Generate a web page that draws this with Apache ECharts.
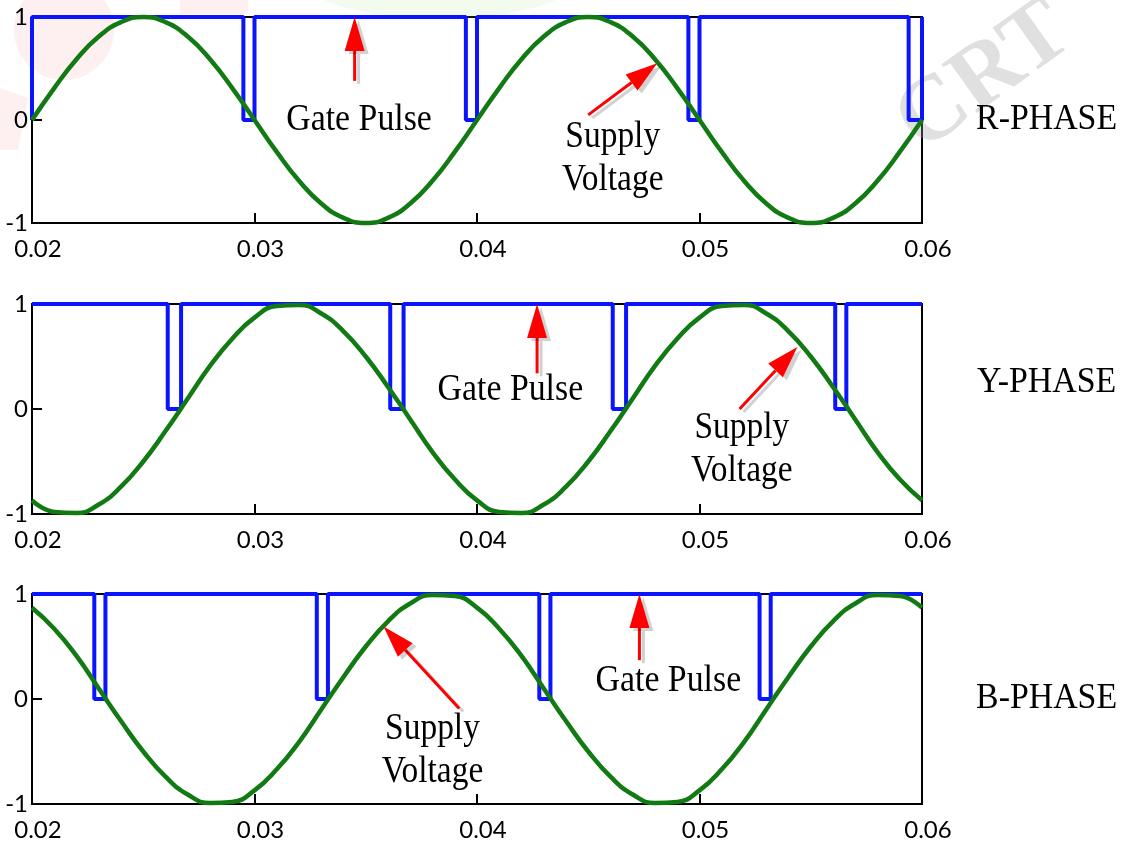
<!DOCTYPE html>
<html>
<head>
<meta charset="utf-8">
<title>Gate pulse and supply voltage</title>
<script src="https://cdn.jsdelivr.net/npm/echarts@6/dist/echarts.min.js"></script>
<style>
  html, body { margin: 0; padding: 0; background: #fff; }
  #main { width: 1127px; height: 846px; }
</style>
</head>
<body>
<div id="main"></div>
<script>
// sample times (s) of the supply voltage traces
const sampleTimes = [
  0.020, 0.021, 0.022, 0.023, 0.024, 0.025, 0.026, 0.027, 0.028, 0.029,
  0.030, 0.031, 0.032, 0.033, 0.034, 0.035, 0.036, 0.037, 0.038, 0.039,
  0.040, 0.041, 0.042, 0.043, 0.044, 0.045, 0.046, 0.047, 0.048, 0.049,
  0.050, 0.051, 0.052, 0.053, 0.054, 0.055, 0.056, 0.057, 0.058, 0.059,
  0.060
]

// supply voltage (p.u.)
const rVoltage = [
  0, 0.31, 0.59, 0.81, 0.95, 1, 0.95, 0.81, 0.59, 0.31,
  0, -0.31, -0.59, -0.81, -0.95, -1, -0.95, -0.81, -0.59, -0.31,
  0, 0.31, 0.59, 0.81, 0.95, 1, 0.95, 0.81, 0.59, 0.31,
  0, -0.31, -0.59, -0.81, -0.95, -1, -0.95, -0.81, -0.59, -0.31,
  0
]
const yVoltage = [
  -0.87, -0.98, -0.99, -0.91, -0.74, -0.5, -0.21, 0.1, 0.41, 0.67,
  0.87, 0.98, 0.99, 0.91, 0.74, 0.5, 0.21, -0.1, -0.41, -0.67,
  -0.87, -0.98, -0.99, -0.91, -0.74, -0.5, -0.21, 0.1, 0.41, 0.67,
  0.87, 0.98, 0.99, 0.91, 0.74, 0.5, 0.21, -0.1, -0.41, -0.67,
  -0.87
]
const bVoltage = [
  0.87, 0.67, 0.41, 0.1, -0.21, -0.5, -0.74, -0.91, -0.99, -0.98,
  -0.87, -0.67, -0.41, -0.1, 0.21, 0.5, 0.74, 0.91, 0.99, 0.98,
  0.87, 0.67, 0.41, 0.1, -0.21, -0.5, -0.74, -0.91, -0.99, -0.98,
  -0.87, -0.67, -0.41, -0.1, 0.21, 0.5, 0.74, 0.91, 0.99, 0.98,
  0.87
]

// gate pulse: level at t = 0.02 and the windows where it drops to 0
const rGateStart = 0
const rGateNotches = [[0.0295, 0.0300], [0.0395, 0.0400], [0.0495, 0.0500], [0.0594, 0.0600]]
const yGateStart = 1
const yGateNotches = [[0.0261, 0.0267], [0.0361, 0.0367], [0.0461, 0.0467], [0.0561, 0.0566]]
const bGateStart = 1
const bGateNotches = [[0.0228, 0.0233], [0.0328, 0.0333], [0.0428, 0.0433], [0.0527, 0.0532]]

const phaseNames = ['R-PHASE', 'Y-PHASE', 'B-PHASE']

// annotation anchors in data units, one entry per panel
const gateArrowTip = [[0.0345, 1], [0.0427, 1], [0.0473, 1]]
const gateArrowTail = [[0.0345, 0.38], [0.0427, 0.34], [0.0473, 0.37]]
const gateTextAt = [[0.0347, 0], [0.0415, 0.18], [0.0486, 0.17]]
const supplyArrowTip = [[0.0481, 0.55], [0.0544, 0.59], [0.0358, 0.69]]
const supplyArrowTail = [[0.0450, 0.05], [0.0518, 0], [0.0392, -0.09]]
const supplyTextAt = [[0.0461, -0.37], [0.0519, -0.39], [0.0380, -0.49]]
const phaseLabelAt = [[0.0656, 0], [0.0656, 0.25], [0.0656, 0]]

const tMin = 0.02
const tMax = 0.06

function gateData(start, notches) {
  let pts = [[tMin, start], [tMin, 1]]
  notches.forEach(function (n) {
    pts.push([n[0], 1], [n[0], 0], [n[1], 0], [n[1], 1])
  })
  pts.push([tMax, 1])
  return pts
}
function pairs(ys) {
  return sampleTimes.map(function (t, i) { return [t, ys[i]] })
}

const voltages = [rVoltage, yVoltage, bVoltage]
const gates = [gateData(rGateStart, rGateNotches), gateData(yGateStart, yGateNotches), gateData(bGateStart, bGateNotches)]

const gridTops = [17, 304, 594]
const gridHeights = [206, 210, 210]

let grids = [], xAxes = [], yAxes = [], series = []
for (let i = 0; i < 3; i++) {
  grids.push({
    left: 32, width: 890, top: gridTops[i], height: gridHeights[i],
    show: true, borderColor: '#000', borderWidth: 2, backgroundColor: 'transparent'
  })
  xAxes.push({
    type: 'value', gridIndex: i, min: tMin, max: tMax, interval: 0.01,
    axisLine: { onZero: false, lineStyle: { color: '#000', width: 2 } },
    axisTick: { inside: true, length: 10, lineStyle: { color: '#000', width: 2 } },
    splitLine: { show: false },
    axisLabel: {
      margin: 14, color: '#000', fontSize: 24, fontFamily: 'Lato',
      padding: [0, 0, 0, 12],
      formatter: function (v) { return v.toFixed(2) }
    }
  })
  yAxes.push({
    type: 'value', gridIndex: i, min: -1, max: 1, interval: 1,
    axisLine: { show: true, onZero: false, lineStyle: { color: '#000', width: 2 } },
    axisTick: { show: true, inside: true, length: 10, lineStyle: { color: '#000', width: 2 } },
    splitLine: { show: false },
    axisLabel: { margin: 4, color: '#000', fontSize: 24, fontFamily: 'Lato', padding: [6, 0, 0, 0] }
  })
  series.push({
    name: 'Gate Pulse', type: 'line', xAxisIndex: i, yAxisIndex: i,
    data: gates[i], showSymbol: false, clip: false,
    lineStyle: { color: '#0a14ff', width: 4 }
  })
  series.push({
    name: 'Supply Voltage', type: 'line', xAxisIndex: i, yAxisIndex: i,
    data: pairs(voltages[i]), showSymbol: false, smooth: true, clip: false,
    lineStyle: { color: '#127a12', width: 4.5 }
  })
}

let myChart = echarts.init(document.getElementById('main'))
myChart.setOption({
  animation: false,
  backgroundColor: '#fff',
  grid: grids,
  xAxis: xAxes,
  yAxis: yAxes,
  series: series
})

// arrows and labels, placed through the axes
function px(i, p) { return myChart.convertToPixel({ gridIndex: i }, p) }
function arrow(a, b, headLen, headW) {
  const dx = b[0] - a[0], dy = b[1] - a[1]
  const len = Math.sqrt(dx * dx + dy * dy)
  const ux = dx / len, uy = dy / len
  const bx = b[0] - ux * headLen, by = b[1] - uy * headLen
  const shadow = { shadowColor: 'rgba(0,0,0,0.18)', shadowOffsetX: 4, shadowOffsetY: 3 }
  return [
    { type: 'line', z: 20, silent: true,
      shape: { x1: a[0], y1: a[1], x2: bx, y2: by },
      style: Object.assign({ stroke: '#ff0000', lineWidth: 3 }, shadow) },
    { type: 'polygon', z: 20, silent: true,
      shape: { points: [[b[0], b[1]], [bx - uy * headW / 2, by + ux * headW / 2], [bx + uy * headW / 2, by - ux * headW / 2]] },
      style: Object.assign({ fill: '#ff0000' }, shadow) }
  ]
}
function serifText(p, text, size, sx, lineH) {
  return {
    type: 'text', z: 20, silent: true, x: p[0], y: p[1], scaleX: sx,
    style: {
      x: 0, y: 0, text: text, align: 'center', verticalAlign: 'middle',
      fontFamily: 'Liberation Serif', fontSize: size, lineHeight: lineH || size, fill: '#000'
    }
  }
}

let graphic = [
  // faint watermark behind the top panel
  { type: 'circle', z: 0, silent: true, shape: { cx: 64, cy: 30, r: 50 }, style: { fill: 'rgba(240,70,70,0.08)' } },
  { type: 'polygon', z: 0, silent: true, shape: { points: [[0, 88], [28, 98], [18, 150], [0, 150]] }, style: { fill: 'rgba(240,70,70,0.08)' } },
  { type: 'rect', z: 0, silent: true, shape: { x: 180, y: 0, width: 68, height: 14 }, style: { fill: 'rgba(240,70,70,0.08)' } },
  { type: 'ellipse', z: 0, silent: true, shape: { cx: 440, cy: -45, rx: 165, ry: 64 }, style: { fill: 'rgba(150,220,110,0.12)' } },
  { type: 'text', z: 0, silent: true, x: 985, y: 78, rotation: 0.62,
    style: { x: 0, y: 0, text: 'CRT', align: 'center', verticalAlign: 'middle',
      fontFamily: 'Liberation Serif', fontWeight: 'bold', fontSize: 92, fill: 'rgba(160,160,160,0.32)' } }
]
for (let i = 0; i < 3; i++) {
  graphic = graphic.concat(arrow(px(i, gateArrowTail[i]), px(i, gateArrowTip[i]), 34, 20))
  graphic = graphic.concat(arrow(px(i, supplyArrowTail[i]), px(i, supplyArrowTip[i]), 32, 20))
  graphic.push(serifText(px(i, gateTextAt[i]), 'Gate Pulse', 38, 0.89))
  graphic.push(serifText(px(i, supplyTextAt[i]), 'Supply\nVoltage', 38, 0.88, 43))
  graphic.push(serifText(px(i, phaseLabelAt[i]), phaseNames[i], 36, 0.94))
}
myChart.setOption({ graphic: graphic })
</script>
</body>
</html>
